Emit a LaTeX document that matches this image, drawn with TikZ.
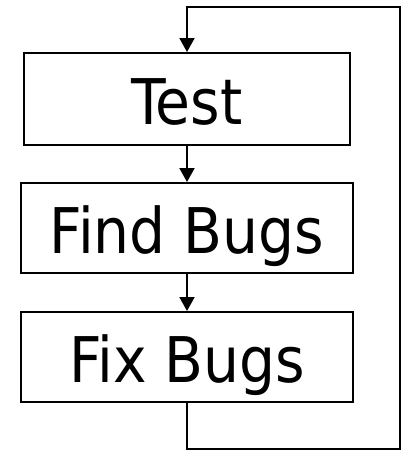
\documentclass[tikz,border=0pt]{standalone}
\usepackage{fontspec}
\setmainfont{DejaVu Sans Condensed}
\usetikzlibrary{arrows.meta}

\begin{document}
\begin{tikzpicture}[x=1pt,y=1pt,line width=2pt,
    stage/.style={draw,minimum width=332pt,minimum height=90pt,inner sep=0pt,
      text height=50pt,text depth=0pt,font=\fontsize{63}{70}\selectfont},
    flow/.style={-{Triangle[width=15pt,length=14pt]}}]
    \useasboundingbox (0,0) rectangle (404,-451);
    \node[stage,minimum width=326pt,minimum height=92pt] (test) at (187,-99) {Test};
    \node[stage] (find) at (187,-228) {Find Bugs};
    \node[stage] (fix) at (187,-357) {Fix Bugs};
    \coordinate (corner) at (400,-7);
    \draw[flow] (test) -- (find);
    \draw[flow] (find) -- (fix);
    \draw[flow] (fix.south) -- ++(0,-46) -| (corner) -| (test.north);
\end{tikzpicture}
\end{document}
